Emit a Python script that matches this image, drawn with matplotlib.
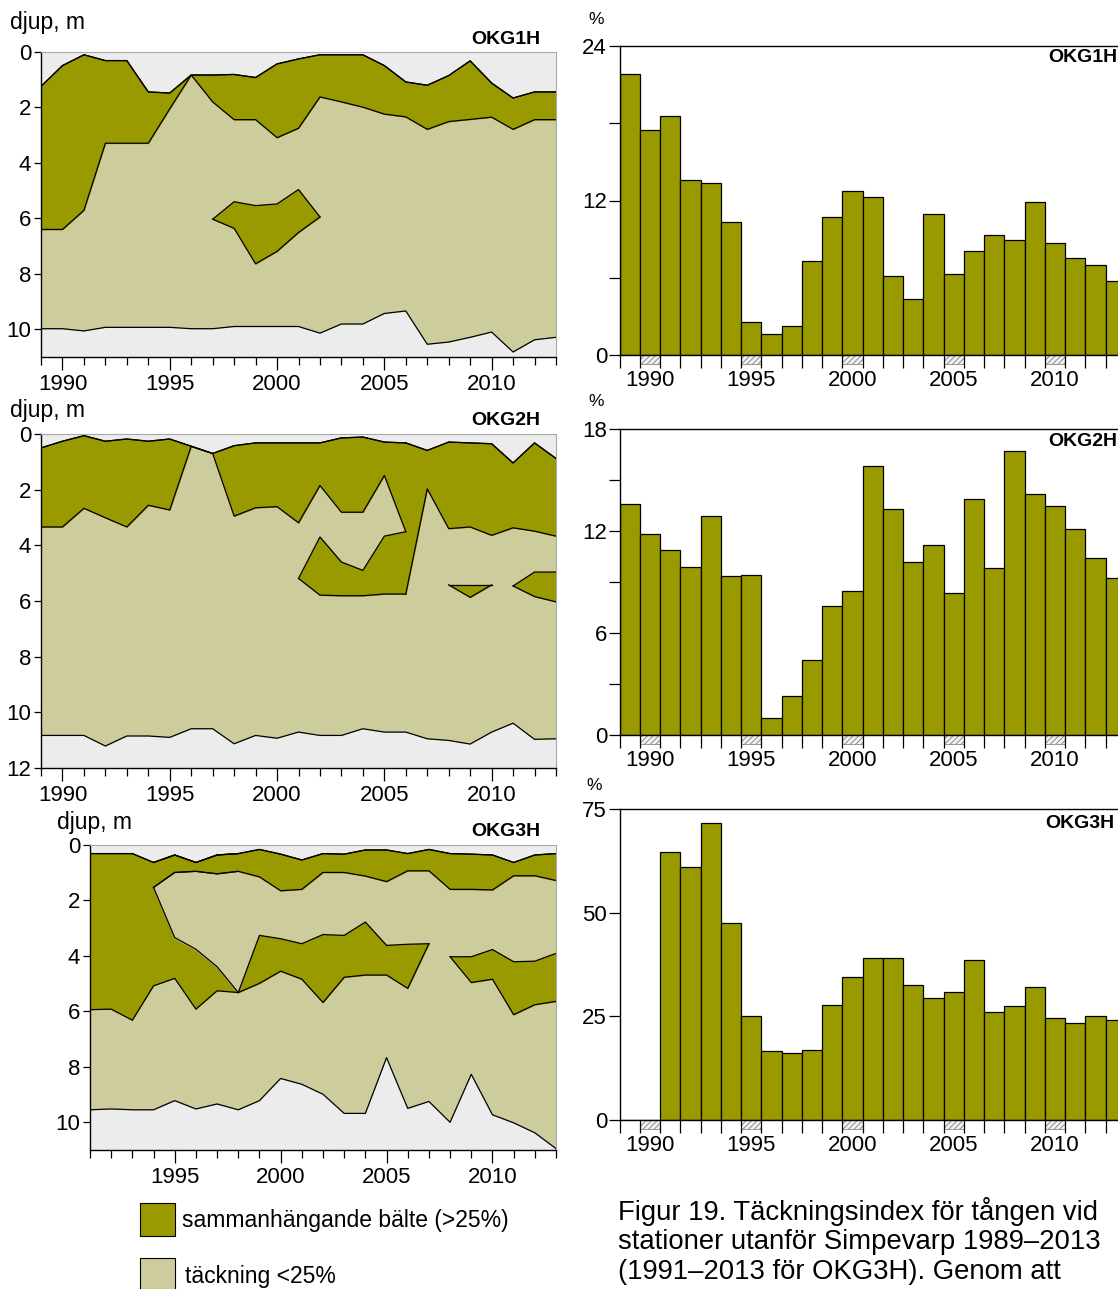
import numpy as np
import matplotlib
matplotlib.use('Agg')
import matplotlib.pyplot as plt
from matplotlib.patches import Rectangle

plt.rcParams['font.family'] = ['Liberation Sans', 'DejaVu Sans']
plt.rcParams['hatch.linewidth'] = 0.7

W, H = 1118, 1289
DENSE = '#999900'
SPARSE = '#cccc9c'
BG = '#ececec'

# ---- depth charts (left) ----
years = np.arange(1989, 2014)
years3 = np.arange(1991, 2014)

# OKG1H
okg1_top = [1.24, 0.49, 0.10, 0.31, 0.31, 1.44, 1.48, 0.83, 0.83, 0.81, 0.92, 0.43, 0.25,
            0.10, 0.10, 0.10, 0.49, 1.08, 1.20, 0.85, 0.32, 1.12, 1.66, 1.44, 1.44]
okg1_belt_low = [6.40, 6.40, 5.71, 3.29, 3.29, 3.29, 2.05, 0.83, 1.80, 2.44, 2.44, 3.09, 2.75,
                 1.62, 1.80, 1.99, 2.24, 2.34, 2.79, 2.51, 2.43, 2.35, 2.79, 2.44, 2.44]
okg1_bottom = [9.98, 9.98, 10.06, 9.93, 9.93, 9.93, 9.93, 9.98, 9.98, 9.90, 9.90, 9.90, 9.90,
               10.14, 9.81, 9.81, 9.43, 9.34, 10.54, 10.46, 10.29, 10.10, 10.82, 10.38, 10.29]
okg1_patch_years = np.arange(1997, 2003)
okg1_patch_up = [6.03, 5.40, 5.54, 5.48, 4.96, 5.95]
okg1_patch_low = [6.03, 6.36, 7.64, 7.19, 6.51, 5.95]

# OKG2H
okg2_top = [0.50, 0.26, 0.06, 0.26, 0.18, 0.26, 0.18, 0.44, 0.70, 0.42, 0.32, 0.32, 0.32,
            0.32, 0.14, 0.11, 0.29, 0.32, 0.59, 0.29, 0.32, 0.35, 1.04, 0.32, 0.88]
okg2_bottom = [10.83, 10.83, 10.83, 11.21, 10.85, 10.85, 10.90, 10.59, 10.59, 11.13, 10.83, 10.93, 10.71,
               10.83, 10.83, 10.59, 10.71, 10.71, 10.95, 11.01, 11.14, 10.71, 10.39, 10.97, 10.95]
okg2_beltA_years = np.arange(1989, 2007)
okg2_beltA_low = [3.34, 3.34, 2.67, 3.01, 3.34, 2.56, 2.73, 0.44, 0.70, 2.95, 2.65, 2.61, 3.19,
                  1.85, 2.81, 2.81, 1.49, 3.51]
okg2_beltC_years = np.arange(2006, 2014)
okg2_beltC_low = [5.75, 1.97, 3.40, 3.34, 3.64, 3.37, 3.49, 3.67]
okg2_p1_years = np.arange(2001, 2007)
okg2_p1_up = [5.19, 3.70, 4.60, 4.90, 3.67, 3.51]
okg2_p1_low = [5.19, 5.79, 5.81, 5.81, 5.75, 5.75]
okg2_p2_years = np.arange(2008, 2011)
okg2_p2_up = [5.42, 5.42, 5.42]
okg2_p2_low = [5.42, 5.87, 5.42]
okg2_p3_years = np.arange(2011, 2014)
okg2_p3_up = [5.46, 4.96, 4.96]
okg2_p3_low = [5.46, 5.84, 6.03]

# OKG3H (1991-2013)
okg3_top = [0.31, 0.31, 0.31, 0.63, 0.36, 0.63, 0.36, 0.31, 0.16, 0.33, 0.54, 0.31,
            0.33, 0.18, 0.18, 0.31, 0.16, 0.31, 0.33, 0.36, 0.63, 0.36, 0.31]
okg3_bottom = [9.55, 9.52, 9.55, 9.55, 9.22, 9.52, 9.34, 9.55, 9.22, 8.42, 8.63, 8.99,
               9.68, 9.68, 7.67, 9.50, 9.25, 10.00, 8.27, 9.73, 10.02, 10.38, 10.95]
okg3_left_years = np.arange(1991, 1999)
okg3_left_low = [5.94, 5.92, 6.32, 5.08, 4.81, 5.92, 5.26, 5.32]
okg3_upper_years = np.arange(1994, 2014)
okg3_upper_low = [1.53, 0.99, 0.95, 1.04, 0.95, 1.15, 1.65, 1.60, 0.99, 0.99, 1.12, 1.32,
                  0.93, 0.93, 1.60, 1.60, 1.62, 1.11, 1.11, 1.28]
okg3_wedge_years = np.arange(1994, 1999)
okg3_wedge_low = [1.53, 3.34, 3.76, 4.39, 5.32]
okg3_mid_years = np.arange(1998, 2008)
okg3_mid_up = [5.32, 3.26, 3.38, 3.56, 3.23, 3.26, 2.78, 3.62, 3.58, 3.56]
okg3_mid_low = [5.32, 4.99, 4.55, 4.84, 5.68, 4.77, 4.69, 4.69, 5.17, 3.56]
okg3_right_years = np.arange(2008, 2014)
okg3_right_up = [4.03, 4.03, 3.77, 4.21, 4.19, 3.91]
okg3_right_low = [4.03, 4.96, 4.84, 6.12, 5.76, 5.64]

# ---- coverage index (right) ----
okg1_index = [21.8, 17.5, 18.6, 13.6, 13.35, 10.3, 2.55, 1.65, 2.25, 7.3, 10.7, 12.75, 12.25,
              6.15, 4.35, 10.95, 6.3, 8.05, 9.35, 8.95, 11.9, 8.7, 7.55, 7.0, 5.75]
okg2_index = [13.6, 11.8, 10.9, 9.9, 12.9, 9.35, 9.4, 1.0, 2.3, 4.4, 7.6, 8.5, 15.8,
              13.3, 10.15, 11.2, 8.35, 13.9, 9.8, 16.7, 14.2, 13.5, 12.1, 10.4, 9.25]
okg3_index = [0, 0, 64.6, 61.1, 71.7, 47.6, 25.2, 16.6, 16.2, 17.0, 27.7, 34.6, 39.0,
              39.0, 32.6, 29.4, 30.9, 38.7, 26.1, 27.5, 32.1, 24.6, 23.3, 25.0, 24.2]
label_years = [1990, 1995, 2000, 2005, 2010]

LBL = 16

fig = plt.figure(figsize=(W / 100, H / 100), dpi=100)


def px_box(l, t, r, b):
    return [l / W, 1 - b / H, (r - l) / W, (b - t) / H]


def ftext(x, y, s, **kw):
    fig.text(x / W, 1 - y / H, s, **kw)


def belt(ax, yrs, up, low, color, edge=0.6):
    # thin edge in the fill colour hides antialiasing seams between touching fills
    ax.fill_between(yrs, up, low, facecolor=color, edgecolor=color, lw=edge)
    ax.plot(yrs, up, color='black', lw=0.9)
    ax.plot(yrs, low, color='black', lw=0.9)


def depth_axes(box, yrs, top, bottom, ymax, yticks):
    ax = fig.add_axes(px_box(*box))
    ax.set_facecolor(BG)
    ax.fill_between(yrs, top, bottom, color=SPARSE, lw=0)
    ax.plot(yrs, top, color='black', lw=0.9)
    ax.plot(yrs, bottom, color='black', lw=0.9)
    ax.set_xlim(yrs[0], yrs[-1])
    ax.set_ylim(ymax, 0)
    ax.set_yticks(yticks)
    ax.set_xticks([y for y in label_years if y >= yrs[0]])
    ax.set_xticks(yrs, minor=True)
    ax.tick_params(axis='y', length=5, width=0.9, pad=2, labelsize=LBL)
    ax.tick_params(axis='x', which='major', length=9, width=0.9, pad=3, labelsize=LBL)
    ax.tick_params(axis='x', which='minor', length=6, width=0.9)
    for s in ('left', 'bottom'):
        ax.spines[s].set_linewidth(1.0)
    for s in ('top', 'right'):
        ax.spines[s].set_color('#a8a8a8')
        ax.spines[s].set_linewidth(0.8)
    return ax


# OKG1H depth
ax1 = depth_axes((41, 52, 556, 357), years, okg1_top, okg1_bottom, 11, [0, 2, 4, 6, 8, 10])
belt(ax1, years, okg1_top, okg1_belt_low, DENSE)
belt(ax1, okg1_patch_years, okg1_patch_up, okg1_patch_low, DENSE)

# OKG2H depth
ax2 = depth_axes((41, 434, 556, 768), years, okg2_top, okg2_bottom, 12, [0, 2, 4, 6, 8, 10, 12])
belt(ax2, okg2_beltA_years, okg2_top[:18], okg2_beltA_low, DENSE)
belt(ax2, okg2_beltC_years, okg2_top[17:], okg2_beltC_low, DENSE)
belt(ax2, okg2_p1_years, okg2_p1_up, okg2_p1_low, DENSE)
belt(ax2, okg2_p2_years, okg2_p2_up, okg2_p2_low, DENSE)
belt(ax2, okg2_p3_years, okg2_p3_up, okg2_p3_low, DENSE)

# OKG3H depth
ax3 = depth_axes((90, 845, 556, 1150), years3, okg3_top, okg3_bottom, 11, [0, 2, 4, 6, 8, 10])
belt(ax3, okg3_left_years, okg3_top[:8], okg3_left_low, DENSE, edge=0)
belt(ax3, okg3_upper_years, okg3_top[3:], okg3_upper_low, DENSE)
belt(ax3, okg3_wedge_years, okg3_upper_low[:5], okg3_wedge_low, SPARSE, edge=1.5)
belt(ax3, okg3_mid_years, okg3_mid_up, okg3_mid_low, DENSE)
belt(ax3, okg3_right_years, okg3_right_up, okg3_right_low, DENSE)

ftext(10, 22, 'djup, m', fontsize=16.5, va='center')
ftext(10, 411, 'djup, m', fontsize=16.5, va='center')
ftext(57, 822, 'djup, m', fontsize=16.5, va='center')
ftext(540, 40, 'OKG1H', fontsize=14, weight='bold', ha='right', va='center')
ftext(540, 421, 'OKG2H', fontsize=14, weight='bold', ha='right', va='center')
ftext(540, 832, 'OKG3H', fontsize=14, weight='bold', ha='right', va='center')


def bar_axes(box, vals, ymax, major, minor):
    ax = fig.add_axes(px_box(*box))
    ax.bar(years, vals, width=1, color=DENSE, edgecolor='black', linewidth=0.9)
    ax.set_xlim(1988.5, 2013.5)
    ax.set_ylim(0, ymax)
    ax.set_xticks(label_years)
    ax.set_xticks(np.append(years - 0.5, 2013.5), minor=True)
    ax.set_yticks(major)
    ax.set_yticks(minor, minor=True)
    ax.tick_params(axis='x', which='major', length=0, pad=11, labelsize=LBL)
    ax.tick_params(axis='x', which='minor', length=9, width=0.9)
    ax.tick_params(axis='y', which='both', length=8, width=0.9, pad=1, labelsize=LBL)
    ax.spines['right'].set_visible(False)
    for s in ('left', 'bottom', 'top'):
        ax.spines[s].set_linewidth(1.0)
    hfrac = 9 / (box[3] - box[1])
    for y in label_years:
        ax.add_patch(Rectangle((y - 0.5, -hfrac), 1, hfrac, transform=ax.get_xaxis_transform(),
                               clip_on=False, facecolor='#f2f2f2', edgecolor='#8a8a8a',
                               hatch='//////', lw=0.6))
    return ax


bar_axes((619.5, 46, 1126, 355), okg1_index, 24, [0, 12, 24], [6, 18])
bar_axes((619.5, 429, 1126, 735), okg2_index, 18, [0, 6, 12, 18], [3, 9, 15])
bar_axes((619.5, 809, 1126, 1120), okg3_index, 75, [0, 25, 50, 75], [])

ftext(596, 20, '%', fontsize=12.5, ha='center', va='center')
ftext(596, 402, '%', fontsize=12.5, ha='center', va='center')
ftext(594, 786, '%', fontsize=12.5, ha='center', va='center')
ftext(1117, 57, 'OKG1H', fontsize=14, weight='bold', ha='right', va='center')
ftext(1117, 441, 'OKG2H', fontsize=14, weight='bold', ha='right', va='center')
ftext(1114, 823, 'OKG3H', fontsize=14, weight='bold', ha='right', va='center')

# legend
fig.add_artist(Rectangle((140 / W, 1 - 1236 / H), 35 / W, 33 / H, transform=fig.transFigure,
                         facecolor=DENSE, edgecolor='black', lw=0.8))
fig.add_artist(Rectangle((140 / W, 1 - 1292 / H), 35 / W, 34 / H, transform=fig.transFigure,
                         facecolor=SPARSE, edgecolor='black', lw=0.8))
ftext(182, 1220, 'sammanhängande bälte (>25%)', fontsize=16.5, va='center')
ftext(185, 1276, 'täckning <25%', fontsize=16.5, va='center')

# caption
ftext(618, 1212, 'Figur 19. Täckningsindex för tången vid', fontsize=19.8, va='center')
ftext(618, 1242, 'stationer utanför Simpevarp 1989–2013', fontsize=19.8, va='center')
ftext(618, 1272, '(1991–2013 för OKG3H). Genom att', fontsize=19.8, va='center')

fig.savefig('out.png', dpi=100)
